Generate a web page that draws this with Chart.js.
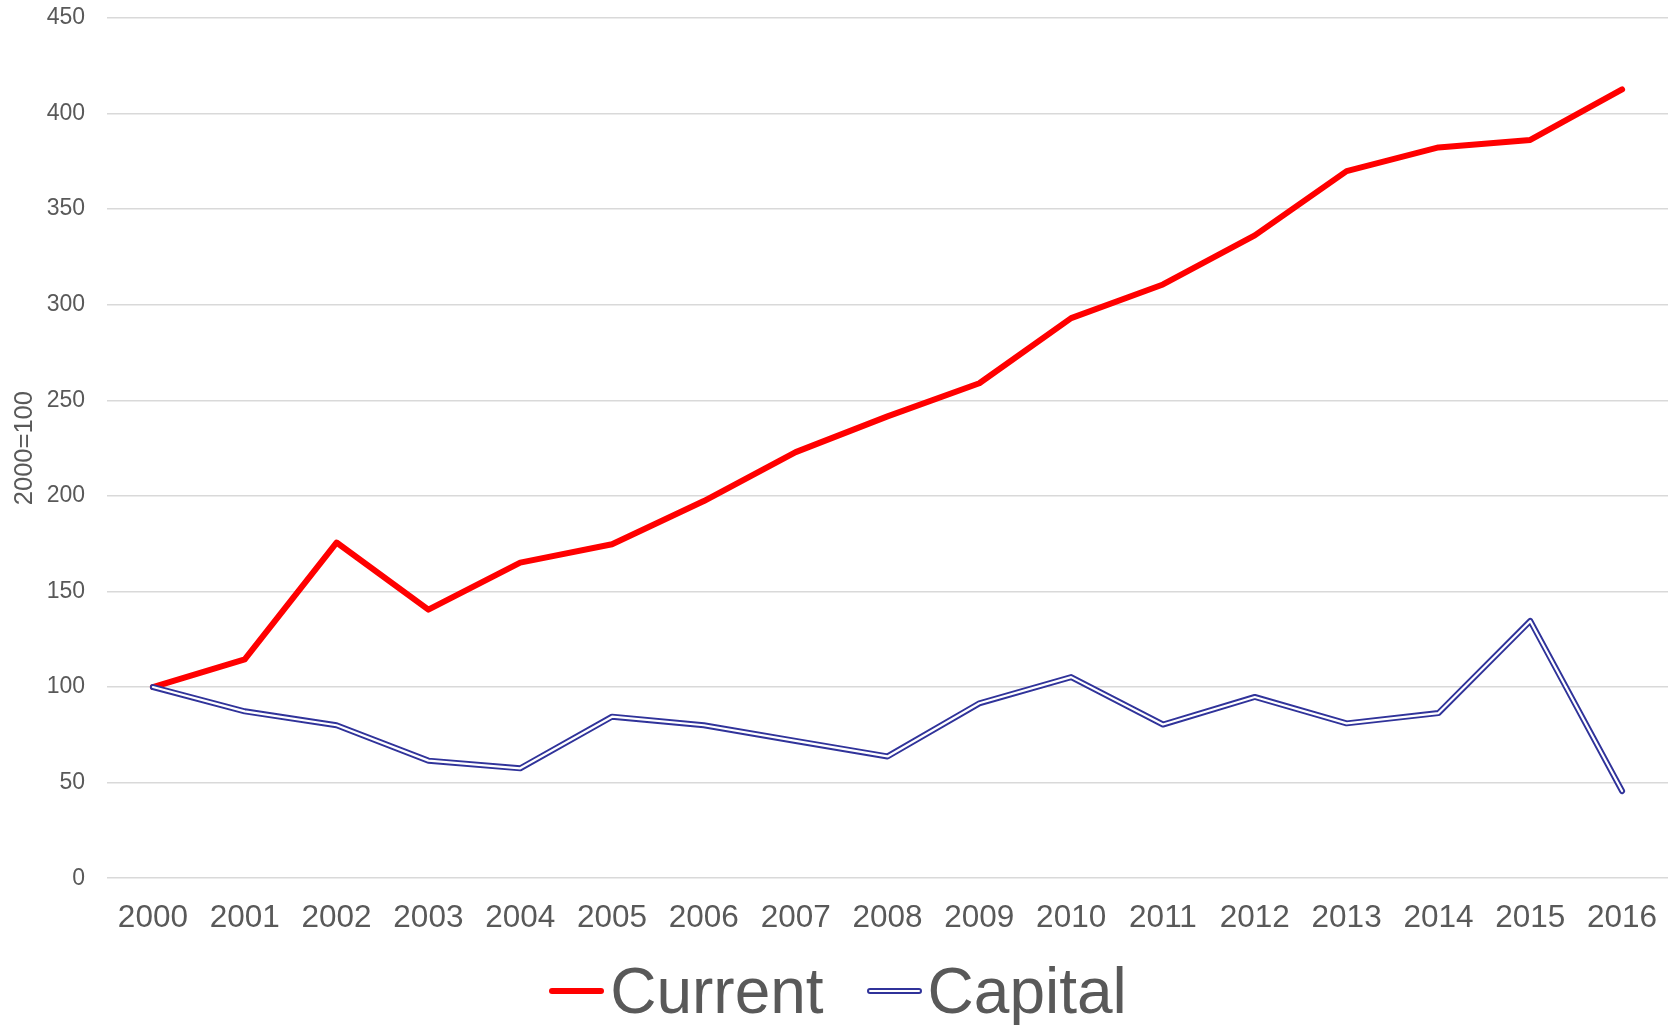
<!DOCTYPE html>
<html>
<head>
<meta charset="utf-8">
<title>Current vs Capital (2000=100)</title>
<script src="https://cdn.jsdelivr.net/npm/chart.js@4"></script>
<style>
    html, body {
        margin: 0;
        padding: 0;
        background: #ffffff;
    }
    #wrap {
        position: relative;
        width: 1676px;
        height: 1025px;
    }
    #legend {
        position: absolute;
        left: 0;
        top: 959px;
        width: 1676px;
        display: flex;
        justify-content: center;
        align-items: center;
        font-family: Arial, 'Liberation Sans', sans-serif;
        font-size: 64px;
        line-height: 1;
        color: #595959;
    }
    .swatch {
        width: 55px;
        height: 6px;
        border-radius: 3px;
        margin-right: 6px;
        box-sizing: border-box;
    }
    .swatch.current {
        background: #ff0000;
    }
    .swatch.capital {
        background: #ffffff;
        border: 2px solid #30339a;
        margin-left: 43px;
    }
</style>
</head>
<body>
<div id="wrap">
    <canvas id="chart" width="1676" height="1025"></canvas>
    <div id="legend">
        <span class="swatch current"></span><span>Current</span>
        <span class="swatch capital"></span><span>Capital</span>
    </div>
</div>

<script>
// Chart data (index, 2000=100)
const years = ['2000', '2001', '2002', '2003', '2004', '2005', '2006', '2007', '2008',
    '2009', '2010', '2011', '2012', '2013', '2014', '2015', '2016'];
const currentValues = [100, 114.5, 175.6, 140.5, 165.1, 174.7, 197.3, 222.9, 241.6,
    258.9, 293.0, 310.6, 336.3, 369.9, 382.3, 386.2, 412.6];
const capitalValues = [100, 87.3, 80.0, 61.5, 57.5, 84.5, 80.0, 71.8, 63.7,
    91.5, 105.2, 80.4, 94.8, 81.0, 86.4, 134.6, 45.6];
const yTicks = [0, 50, 100, 150, 200, 250, 300, 350, 400, 450];

const textColor = '#595959';
const gridColor = '#d9d9d9';
const fontFamily = "Arial, 'Liberation Sans', sans-serif";

document.addEventListener('DOMContentLoaded', () => {
    initializeChart();
});

function initializeChart() {
    const ctx = document.getElementById('chart').getContext('2d');

    new Chart(ctx, {
        type: 'line',
        data: {
            labels: years,
            datasets: [
                {
                    // white core of the double line, drawn on top
                    label: 'Capital inner',
                    data: capitalValues,
                    borderColor: '#ffffff',
                    borderWidth: 2.2,
                    borderCapStyle: 'round',
                    borderJoinStyle: 'round',
                    pointRadius: 0,
                    tension: 0,
                    order: 0
                },
                {
                    label: 'Capital',
                    data: capitalValues,
                    borderColor: '#30339a',
                    borderWidth: 6,
                    borderCapStyle: 'round',
                    borderJoinStyle: 'round',
                    pointRadius: 0,
                    tension: 0,
                    order: 1
                },
                {
                    label: 'Current',
                    data: currentValues,
                    borderColor: '#ff0000',
                    borderWidth: 6,
                    borderCapStyle: 'round',
                    borderJoinStyle: 'round',
                    pointRadius: 0,
                    tension: 0,
                    order: 2
                }
            ]
        },
        options: {
            responsive: false,
            animation: false,
            layout: {
                padding: { top: 18, right: 8, bottom: 75, left: 0 }
            },
            scales: {
                x: {
                    offset: true,
                    grid: { display: false },
                    border: { display: false },
                    ticks: {
                        color: textColor,
                        font: { family: fontFamily, size: 31.5 },
                        padding: 13,
                        maxRotation: 0,
                        autoSkip: false
                    }
                },
                y: {
                    min: 0,
                    max: 450,
                    afterFit: (scale) => {
                        scale.width = 107;
                        // label padding should not push the plot area down
                        scale.paddingTop = 0;
                        scale.paddingBottom = 0;
                    },
                    afterBuildTicks: (scale) => {
                        scale.ticks = yTicks.map(v => ({ value: v }));
                    },
                    grid: {
                        color: gridColor,
                        lineWidth: 1.5,
                        drawTicks: false
                    },
                    border: { display: false },
                    ticks: {
                        color: textColor,
                        font: { family: fontFamily, size: 23 },
                        padding: 22
                    },
                    title: {
                        display: true,
                        text: '2000=100',
                        color: textColor,
                        font: { family: fontFamily, size: 25.5 },
                        padding: { top: 10, bottom: 0 }
                    }
                }
            },
            plugins: {
                legend: { display: false },
                tooltip: { enabled: false }
            }
        }
    });
}
</script>
</body>
</html>
